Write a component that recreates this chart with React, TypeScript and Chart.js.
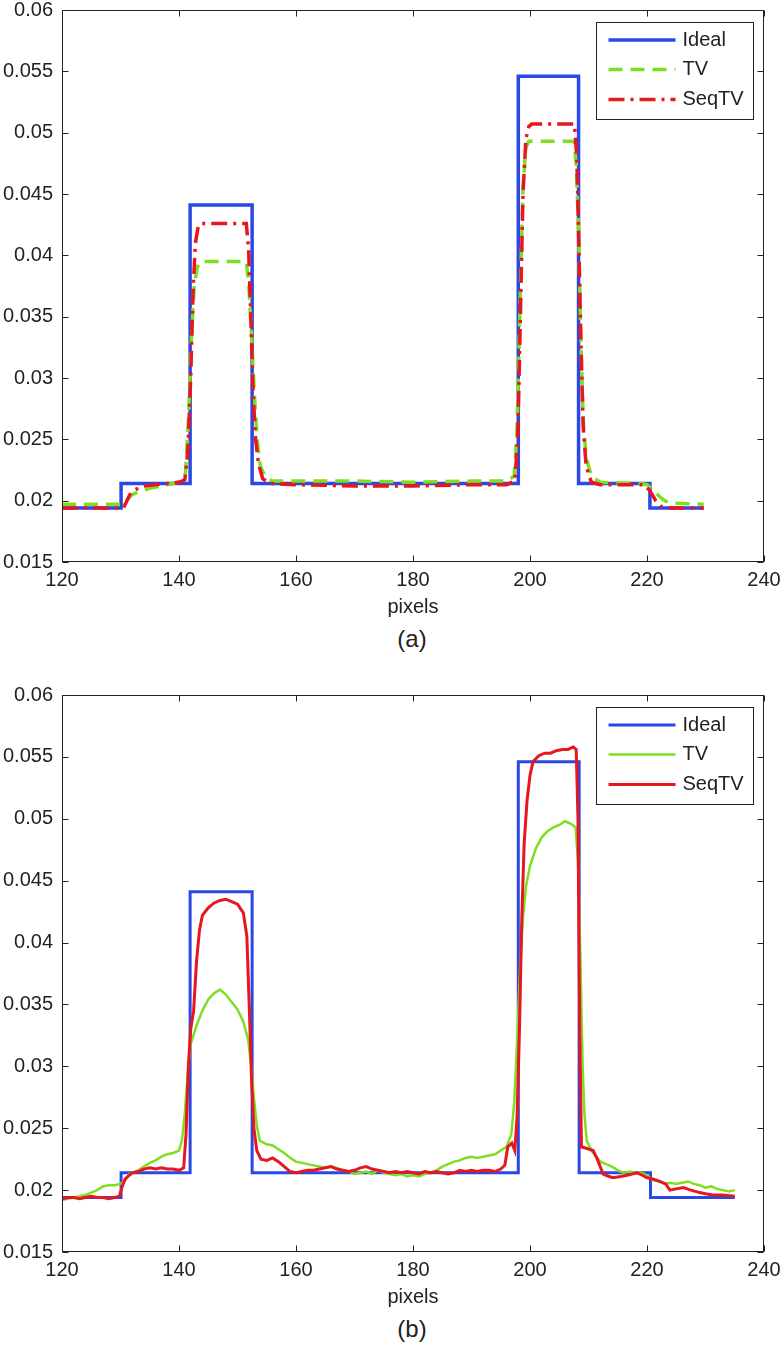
import React, { useEffect, useRef } from "react";
import { Chart, registerables } from "chart.js";

Chart.register(...registerables);

// ---------- data ----------
const seriesLabels = ["Ideal", "TV", "SeqTV"];
const xTicks = [120, 140, 160, 180, 200, 220, 240];
const xTickLabels = ["120", "140", "160", "180", "200", "220", "240"];
const yTicks = [0.015, 0.02, 0.025, 0.03, 0.035, 0.04, 0.045, 0.05, 0.055, 0.06];
const yTickLabels = ["0.015", "0.02", "0.025", "0.03", "0.035", "0.04", "0.045", "0.05", "0.055", "0.06"];
const xAxisTitle = "pixels";
const panelCaptions = ["(a)", "(b)"];

// Ideal (step function: x where the level starts, level)
const idealAX = [120, 130.1, 141.9, 152.5, 198.0, 208.3, 220.5, 229.7];
const idealAY = [0.0194, 0.0214, 0.0441, 0.0214, 0.0546, 0.0214, 0.0194, 0.0194];
const idealBX = [120, 130.1, 141.9, 152.5, 198.0, 208.4, 220.6, 235];
const idealBY = [0.0194, 0.0214, 0.0441, 0.0214, 0.0546, 0.0214, 0.0194, 0.0194];

// (a) TV
const tvAX = [120, 130.4, 131, 132, 133, 135, 137, 139, 140.5, 141.1, 141.6, 142.1, 142.6, 143.1, 143.6, 151.5, 151.9, 152.4, 152.9, 153.4, 153.9, 154.8, 156, 160, 170, 180, 190, 196, 197.3, 197.8, 198.3, 198.8, 199.3, 199.8, 207.5, 207.9, 208.3, 208.7, 209.1, 209.6, 210.5, 212, 219, 220, 221, 222, 223, 224, 229.7];
const tvAY = [0.0197, 0.0197, 0.02, 0.0205, 0.0207, 0.021, 0.0212, 0.0214, 0.0216, 0.0222, 0.0265, 0.033, 0.0375, 0.039, 0.0395, 0.0395, 0.0378, 0.0335, 0.0285, 0.0248, 0.0228, 0.0219, 0.0216, 0.0216, 0.0216, 0.0215, 0.0216, 0.0216, 0.022, 0.026, 0.036, 0.0455, 0.0488, 0.0493, 0.0493, 0.0475, 0.042, 0.033, 0.0265, 0.0235, 0.022, 0.0215, 0.0214, 0.0213, 0.0209, 0.0204, 0.02, 0.0198, 0.0197];

// (a) SeqTV
const seqAX = [120, 130.5, 131, 131.6, 132.5, 134, 136, 138, 140, 141, 141.5, 142, 142.4, 142.8, 143.3, 143.8, 151.5, 151.9, 152.3, 152.7, 153.1, 153.6, 154.3, 155.5, 160, 170, 180, 190, 196, 197.4, 197.9, 198.4, 198.8, 199.3, 199.8, 200.3, 207.6, 208, 208.3, 208.7, 209.1, 209.6, 210.5, 212, 219.5, 220.5, 221.5, 222.5, 223.5, 229.7];
const seqAY = [0.0194, 0.0194, 0.0199, 0.0205, 0.0209, 0.0212, 0.0213, 0.0214, 0.0215, 0.0217, 0.024, 0.03, 0.037, 0.041, 0.0424, 0.0426, 0.0426, 0.0405, 0.0345, 0.0285, 0.025, 0.023, 0.0218, 0.0214, 0.0213, 0.0212, 0.0212, 0.0213, 0.0213, 0.0216, 0.025, 0.036, 0.045, 0.0495, 0.0505, 0.0507, 0.0507, 0.048, 0.042, 0.033, 0.026, 0.0228, 0.0215, 0.0213, 0.0213, 0.0208, 0.02, 0.0195, 0.0194, 0.0194];

// (b) TV
const tvBX = [120, 121, 122, 123, 124, 125, 126, 127, 128, 129, 130, 130.8, 131.5, 132, 133, 134, 135, 136, 137, 138, 139, 140, 140.5, 141, 141.5, 142, 143, 144, 145, 146, 147, 148, 149, 150, 151, 151.8, 152.3, 152.8, 153.3, 153.8, 155, 156, 157, 158, 159, 160, 161, 162, 163, 164, 165, 166, 167, 168, 169, 170, 171, 172, 173, 174, 175, 176, 177, 178, 179, 180, 181, 182, 183, 184, 185, 186, 187, 188, 189, 190, 191, 192, 193, 194, 195, 196, 196.8, 197.3, 197.8, 198.3, 198.8, 199.3, 200, 201, 202, 203, 204, 205, 206, 207, 207.8, 208.2, 208.6, 209, 209.3, 209.7, 210.5, 212, 213, 214, 215, 216, 217, 218, 219, 220, 221, 222, 223, 224, 225, 226, 227, 228, 229, 230, 231, 232, 233, 234, 235];
const tvBY = [0.0192, 0.0193, 0.0194, 0.0195, 0.0196, 0.0198, 0.02, 0.0203, 0.0204, 0.0204, 0.0205, 0.0208, 0.0213, 0.0214, 0.0216, 0.0219, 0.0222, 0.0224, 0.0227, 0.0229, 0.023, 0.0232, 0.024, 0.0262, 0.0295, 0.0318, 0.0333, 0.0345, 0.0354, 0.0359, 0.0362, 0.0358, 0.0352, 0.0346, 0.0336, 0.0322, 0.0302, 0.0275, 0.0252, 0.024, 0.0237, 0.0236, 0.0233, 0.023, 0.0226, 0.0223, 0.0222, 0.0221, 0.022, 0.0219, 0.0218, 0.0219, 0.0218, 0.0216, 0.0215, 0.0213, 0.0214, 0.0215, 0.0213, 0.0216, 0.0214, 0.0213, 0.0212, 0.0213, 0.0211, 0.0212, 0.0211, 0.0213, 0.0214, 0.0216, 0.0219, 0.0221, 0.0223, 0.0224, 0.0226, 0.0227, 0.0226, 0.0227, 0.0228, 0.0229, 0.0232, 0.0235, 0.0245, 0.027, 0.032, 0.038, 0.042, 0.0445, 0.0462, 0.0476, 0.0485, 0.049, 0.0493, 0.0495, 0.0498, 0.0496, 0.0493, 0.0465, 0.039, 0.03, 0.0262, 0.024, 0.0232, 0.0223, 0.0221, 0.0219, 0.0216, 0.0214, 0.0215, 0.0214, 0.0214, 0.0212, 0.0208, 0.0207, 0.0205, 0.0206, 0.0205, 0.0206, 0.0207, 0.0205, 0.0204, 0.0202, 0.0203, 0.0201, 0.02, 0.0199, 0.02];

// (b) SeqTV
const seqBX = [120, 121, 122, 123, 124, 125, 126, 127, 128, 129, 129.8, 130.3, 130.8, 131.5, 132, 133, 134, 135, 136, 137, 138, 139, 140, 140.8, 141.2, 141.6, 142, 142.5, 143, 143.5, 144, 145, 146, 147, 148, 149, 150, 151, 151.6, 152, 152.4, 152.8, 153.3, 154, 155, 156, 157, 158, 159, 160, 161, 162, 163, 164, 165, 166, 167, 168, 169, 170, 171, 172, 173, 174, 175, 176, 177, 178, 179, 180, 181, 182, 183, 184, 185, 186, 187, 188, 189, 190, 191, 192, 193, 194, 195, 195.7, 196.2, 196.9, 197.4, 197.8, 198.2, 198.6, 199, 199.5, 200, 200.5, 201.5, 202.5, 203.5, 204.5, 205.5, 206.5, 207.4, 207.9, 208.2, 208.5, 208.8, 210.8, 211.5, 212.5, 213.5, 214.2, 215.5, 216.6, 218.3, 219.2, 220, 221, 222.2, 223.2, 223.9, 225, 226.2, 227.5, 229, 230, 231.3, 233, 235];
const seqBY = [0.0193, 0.0194, 0.0194, 0.0193, 0.0194, 0.0195, 0.0194, 0.0194, 0.0193, 0.0194, 0.0195, 0.0203, 0.0209, 0.0212, 0.0214, 0.0215, 0.0217, 0.0218, 0.0217, 0.0218, 0.0217, 0.0217, 0.0216, 0.0218, 0.0245, 0.03, 0.033, 0.0345, 0.0385, 0.041, 0.0422, 0.0428, 0.0432, 0.0434, 0.0435, 0.0433, 0.0431, 0.0424, 0.0405, 0.035, 0.029, 0.025, 0.0232, 0.0225, 0.0224, 0.0226, 0.0223, 0.0219, 0.0215, 0.0214, 0.0215, 0.0216, 0.0216, 0.0217, 0.0218, 0.0219, 0.0217, 0.0216, 0.0215, 0.0216, 0.0218, 0.0219, 0.0217, 0.0216, 0.0215, 0.0214, 0.0215, 0.0214, 0.0215, 0.0214, 0.0213, 0.0215, 0.0214, 0.0215, 0.0214, 0.0213, 0.0214, 0.0216, 0.0215, 0.0216, 0.0215, 0.0216, 0.0216, 0.0215, 0.0217, 0.022, 0.0235, 0.0238, 0.0232, 0.026, 0.033, 0.042, 0.048, 0.0515, 0.0535, 0.0546, 0.0551, 0.0553, 0.0553, 0.0555, 0.0556, 0.0556, 0.0558, 0.0556, 0.05, 0.033, 0.0235, 0.0232, 0.0225, 0.0213, 0.0211, 0.021, 0.0211, 0.0212, 0.0214, 0.0212, 0.021, 0.0209, 0.0207, 0.0205, 0.02, 0.0201, 0.0202, 0.02, 0.0198, 0.0197, 0.0196, 0.0196, 0.0195];

// ---------- styling ----------
const FONT = "'Liberation Sans', Arial, Helvetica, sans-serif";
const TEXT = "#222222";
const BLUE = "#2a48e4";
const GREEN = "#7edf22";
const RED = "#e8161e";

const pts = (xs: number[], ys: number[]) => xs.map((x, i) => ({ x, y: ys[i] }));

const boxPlugin = {
  id: "matlabBox",
  afterDraw(chart: any) {
    const { ctx, chartArea: a } = chart;
    const xs = chart.scales.x;
    const ys = chart.scales.y;
    ctx.save();
    ctx.strokeStyle = TEXT;
    ctx.lineWidth = 1;
    ctx.setLineDash([]);
    const L = Math.round(a.left) + 0.5;
    const R = Math.round(a.right) - 0.5;
    const T = Math.round(a.top) + 0.5;
    const B = Math.round(a.bottom) - 0.5;
    ctx.strokeRect(L, T, R - L, B - T);
    const tl = 6;
    ctx.beginPath();
    xs.ticks.forEach((t: any) => {
      const px = Math.round(xs.getPixelForValue(t.value)) + 0.5;
      ctx.moveTo(px, B);
      ctx.lineTo(px, B - tl);
      ctx.moveTo(px, T);
      ctx.lineTo(px, T + tl);
    });
    ys.ticks.forEach((t: any) => {
      const py = Math.round(ys.getPixelForValue(t.value)) + 0.5;
      ctx.moveTo(L, py);
      ctx.lineTo(L + tl, py);
      ctx.moveTo(R, py);
      ctx.lineTo(R - tl, py);
    });
    ctx.stroke();
    ctx.restore();
  },
};

const legendPlugin = {
  id: "matlabLegend",
  afterDraw(chart: any) {
    const { ctx, chartArea: a } = chart;
    const bx = Math.round(a.right - 168) + 0.5;
    const by = Math.round(a.top + 12) + 0.5;
    const bw = 157;
    const bh = 97;
    ctx.save();
    ctx.fillStyle = "#ffffff";
    ctx.fillRect(bx, by, bw, bh);
    ctx.strokeStyle = TEXT;
    ctx.lineWidth = 1;
    ctx.setLineDash([]);
    ctx.strokeRect(bx, by, bw, bh);
    const rows = [17.5, 47, 77];
    chart.data.datasets.forEach((ds: any, i: number) => {
      const y = by + rows[i];
      ctx.strokeStyle = ds.borderColor;
      ctx.lineWidth = ds.borderWidth;
      ctx.setLineDash(ds.borderDash || []);
      ctx.beginPath();
      ctx.moveTo(bx + 12, y);
      ctx.lineTo(bx + 79, y);
      ctx.stroke();
      ctx.setLineDash([]);
      ctx.fillStyle = TEXT;
      ctx.font = `20px ${FONT}`;
      ctx.textAlign = "left";
      ctx.textBaseline = "middle";
      ctx.fillText(ds.label, bx + 86, y);
    });
    ctx.restore();
  },
};

function makeConfig(datasets: any[], padTop: number) {
  return {
    type: "line",
    data: { datasets },
    options: {
      responsive: false,
      animation: false,
      devicePixelRatio: 1,
      layout: { padding: { top: padTop, right: 16, left: 0, bottom: 0 } },
      elements: { point: { radius: 0 }, line: { tension: 0 } },
      plugins: { legend: { display: false }, tooltip: { enabled: false }, title: { display: false } },
      scales: {
        x: {
          type: "linear",
          min: 120,
          max: 240,
          afterBuildTicks: (s: any) => {
            s.ticks = xTicks.map((v) => ({ value: v }));
          },
          grid: { display: false, drawTicks: false },
          border: { display: false },
          ticks: {
            font: { family: FONT, size: 20 },
            color: TEXT,
            padding: 6,
            maxRotation: 0,
            autoSkip: false,
            callback: (_v: any, i: number) => xTickLabels[i],
          },
          title: {
            display: true,
            text: xAxisTitle,
            font: { family: FONT, size: 20 },
            color: TEXT,
            padding: { top: 0, bottom: 6 },
          },
          afterFit: (s: any) => {
            s.height = 63;
            s.paddingLeft = 0;
            s.paddingRight = 0;
            s.paddingTop = 0;
            s.paddingBottom = 0;
          },
        },
        y: {
          type: "linear",
          min: 0.015,
          max: 0.06,
          afterBuildTicks: (s: any) => {
            s.ticks = yTicks.map((v) => ({ value: v }));
          },
          grid: { display: false, drawTicks: false },
          border: { display: false },
          ticks: {
            font: { family: FONT, size: 20 },
            color: TEXT,
            padding: 9,
            autoSkip: false,
            callback: (_v: any, i: number) => yTickLabels[i],
          },
          afterFit: (s: any) => {
            s.width = 62;
            s.paddingLeft = 0;
            s.paddingRight = 0;
            s.paddingTop = 0;
            s.paddingBottom = 0;
          },
        },
      },
    },
    plugins: [boxPlugin, legendPlugin],
  };
}

function datasetsA() {
  return [
    { label: seriesLabels[0], data: pts(idealAX, idealAY), borderColor: BLUE, borderWidth: 3.5, stepped: "before", order: 3, fill: false },
    { label: seriesLabels[1], data: pts(tvAX, tvAY), borderColor: GREEN, borderWidth: 3.5, borderDash: [14, 8], order: 2, fill: false },
    { label: seriesLabels[2], data: pts(seqAX, seqAY), borderColor: RED, borderWidth: 3.5, borderDash: [16, 6, 3, 6], order: 1, fill: false },
  ];
}

function datasetsB() {
  return [
    { label: seriesLabels[0], data: pts(idealBX, idealBY), borderColor: BLUE, borderWidth: 3, stepped: "before", order: 3, fill: false },
    { label: seriesLabels[1], data: pts(tvBX, tvBY), borderColor: GREEN, borderWidth: 2.5, order: 2, fill: false },
    { label: seriesLabels[2], data: pts(seqBX, seqBY), borderColor: RED, borderWidth: 3, order: 1, fill: false },
  ];
}

const captionStyle = (top: number): React.CSSProperties => ({
  position: "absolute",
  left: 312,
  width: 200,
  top,
  textAlign: "center",
  fontFamily: FONT,
  fontSize: 24,
  lineHeight: "24px",
  color: TEXT,
});

export default function App() {
  const refA = useRef<HTMLCanvasElement>(null);
  const refB = useRef<HTMLCanvasElement>(null);

  useEffect(() => {
    const cA = new Chart(refA.current as HTMLCanvasElement, makeConfig(datasetsA(), 10) as any);
    const cB = new Chart(refB.current as HTMLCanvasElement, makeConfig(datasetsB(), 35) as any);
    return () => {
      cA.destroy();
      cB.destroy();
    };
  }, []);

  return (
    <div style={{ position: "absolute", left: 0, top: 0, width: 780, height: 1346, background: "#ffffff" }}>
      <canvas ref={refA} width={780} height={625} style={{ position: "absolute", left: 0, top: 0, width: 780, height: 625 }} />
      <div style={captionStyle(627)}>{panelCaptions[0]}</div>
      <canvas ref={refB} width={780} height={655} style={{ position: "absolute", left: 0, top: 660, width: 780, height: 655 }} />
      <div style={captionStyle(1317)}>{panelCaptions[1]}</div>
    </div>
  );
}
